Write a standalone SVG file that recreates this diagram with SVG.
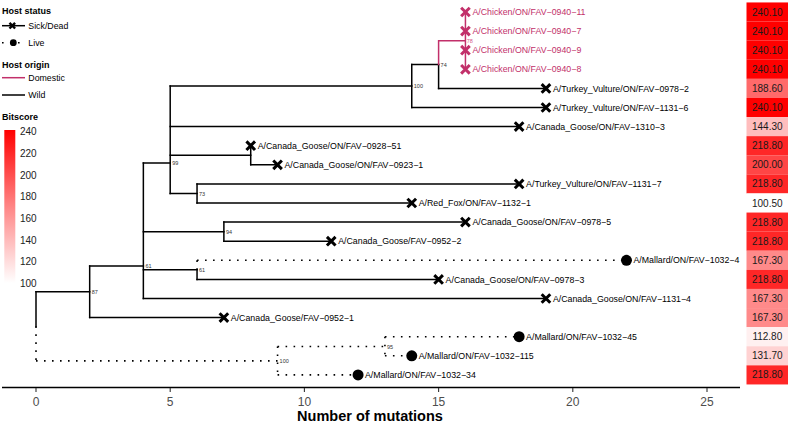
<svg xmlns="http://www.w3.org/2000/svg" xmlns:xlink="http://www.w3.org/1999/xlink" width="788" height="424" viewBox="0 0 788 424">
<style>
text{font-family:"Liberation Sans",Arial,sans-serif}
.e{stroke:#000;stroke-width:1.5;fill:none;stroke-linecap:square}
.d{stroke:#000;stroke-width:1.6;fill:none;stroke-dasharray:1.6 6.4;stroke-linecap:butt}
.p{stroke:#C2306A;stroke-width:1.5;fill:none;stroke-linecap:square}
.tl{font-size:8.8px;fill:#000}
.tlp{font-size:8.8px;fill:#C2306A}
.nl{font-size:5.5px;fill:#333}
.xk{stroke:#000;stroke-width:3;fill:none}
.xp{stroke:#C2306A;stroke-width:3;fill:none}
.hv{font-size:10px;fill:#1a1a1a;text-anchor:middle}
.lt{font-size:9px;font-weight:bold;fill:#000}
.ll{font-size:8.8px;fill:#000}
.cb{font-size:10px;fill:#222}
.ax{font-size:12px;fill:#4D4D4D;text-anchor:middle}
</style>
<defs>
<path id="xm" d="M-4.3,-4.3L4.3,4.3M-4.3,4.3L4.3,-4.3"/>
<linearGradient id="bitgrad" x1="0" y1="0" x2="0" y2="1">
<stop offset="0" stop-color="#FF0000"/>
<stop offset="0.5" stop-color="#FF8585"/>
<stop offset="1" stop-color="#FFFFFF"/>
</linearGradient>
</defs>
<rect width="788" height="424" fill="#fff"/>

<g id="legend">
<text class="lt" x="2" y="13.6">Host status</text>
<line x1="2" y1="25.7" x2="25" y2="25.7" stroke="#000" stroke-width="1.5"/>
<path d="M9.5,22.9L15.1,28.5M9.5,28.5L15.1,22.9" stroke="#000" stroke-width="2.4" fill="none"/>
<text class="ll" x="28.3" y="28.8">Sick/Dead</text>
<line x1="2" y1="42.7" x2="25" y2="42.7" class="d" stroke-dasharray="1.2 2.4"/>
<circle cx="13.3" cy="42.7" r="3.4" fill="#000"/>
<text class="ll" x="28.3" y="45.8">Live</text>
<text class="lt" x="2" y="68">Host origin</text>
<line x1="2" y1="77.7" x2="25" y2="77.7" stroke="#C2306A" stroke-width="1.5"/>
<text class="ll" x="28.3" y="80.8">Domestic</text>
<line x1="2" y1="95" x2="25" y2="95" stroke="#000" stroke-width="1.5"/>
<text class="ll" x="28.3" y="98.1">Wild</text>
<text class="lt" x="2" y="119.6">Bitscore</text>
<rect x="4.3" y="130" width="11" height="153" fill="url(#bitgrad)"/>
<text class="cb" x="20" y="135.2">240</text>
<text class="cb" x="20" y="156.9">220</text>
<text class="cb" x="20" y="178.6">200</text>
<text class="cb" x="20" y="200.3">180</text>
<text class="cb" x="20" y="222">160</text>
<text class="cb" x="20" y="243.6">140</text>
<text class="cb" x="20" y="265.3">120</text>
<text class="cb" x="20" y="287">100</text>
</g>

<g id="connectors">
<!-- solid horizontals -->
<path class="e" d="M36,291.8H89.68 M89.68,266H143.36 M89.68,317.6H223.88 M143.36,163H170.2 M143.36,231.65H223.88 M143.36,269.85H197.04 M143.36,298.5H545.96 M170.2,86H411.76 M170.2,126.6H519.12 M170.2,155.25H250.72 M170.2,193.45H197.04 M250.72,164.8H277.56 M197.04,183.9H519.12 M197.04,203H411.76 M223.88,222.1H465.44 M223.88,241.2H331.24 M197.04,279.4H438.6 M411.76,64.5H438.6 M411.76,107.5H545.96 M438.6,88.4H545.96"/>
<!-- solid verticals -->
<path class="e" d="M36,291.8V326.35 M89.68,266V317.6 M143.36,163V298.5 M170.2,86V193.45 M250.72,145.7V164.8 M197.04,183.9V203 M223.88,222.1V241.2 M197.04,269.85V279.4 M411.76,64.5V107.5 M438.6,64.5V88.4"/>
<!-- domestic -->
<path class="p" d="M438.6,40.65H465.44 M438.6,40.65V64.5 M465.44,12V69.3"/>
<!-- dotted (live) -->
<path class="d" d="M36,326.35V360.9 M36,360.9H277.56 M277.56,346.5V374.9 M277.56,346.5H384.92 M277.56,374.9H358.08 M384.92,336.7V355.8 M384.92,336.7H519.12 M384.92,355.8H411.76 M197.04,260.3V269.85 M197.04,260.3H626.48"/>
</g>

<g id="node-labels">
<text class="nl" x="91.7" y="293.8">87</text>
<text class="nl" x="145.4" y="268">61</text>
<text class="nl" x="172.2" y="165">99</text>
<text class="nl" x="199" y="195.5">73</text>
<text class="nl" x="225.9" y="233.7">94</text>
<text class="nl" x="199" y="271.9">61</text>
<text class="nl" x="413.8" y="88">100</text>
<text class="nl" x="440.6" y="66.5">74</text>
<text class="nl" x="466.8" y="42.7" fill="#D45A8A" style="fill:#D45A8A">78</text>
<text class="nl" x="279.6" y="362.9">100</text>
<text class="nl" x="386.9" y="348.5">95</text>
</g>

<g id="tip-chicken-0940-11"><use xlink:href="#xm" x="465.44" y="12" class="xp"/><text class="tlp" x="472.4" y="15.1">A/Chicken/ON/FAV−0940−11</text></g>
<g id="tip-chicken-0940-7"><use xlink:href="#xm" x="465.44" y="31.1" class="xp"/><text class="tlp" x="472.4" y="34.2">A/Chicken/ON/FAV−0940−7</text></g>
<g id="tip-chicken-0940-9"><use xlink:href="#xm" x="465.44" y="50.2" class="xp"/><text class="tlp" x="472.4" y="53.3">A/Chicken/ON/FAV−0940−9</text></g>
<g id="tip-chicken-0940-8"><use xlink:href="#xm" x="465.44" y="69.3" class="xp"/><text class="tlp" x="472.4" y="72.4">A/Chicken/ON/FAV−0940−8</text></g>
<g id="tip-tv-0978-2"><use xlink:href="#xm" x="545.96" y="88.4" class="xk"/><text class="tl" x="552.9" y="91.5">A/Turkey_Vulture/ON/FAV−0978−2</text></g>
<g id="tip-tv-1131-6"><use xlink:href="#xm" x="545.96" y="107.5" class="xk"/><text class="tl" x="552.9" y="110.6">A/Turkey_Vulture/ON/FAV−1131−6</text></g>
<g id="tip-cg-1310-3"><use xlink:href="#xm" x="519.12" y="126.6" class="xk"/><text class="tl" x="526.1" y="129.7">A/Canada_Goose/ON/FAV−1310−3</text></g>
<g id="tip-cg-0928-51"><use xlink:href="#xm" x="250.72" y="145.7" class="xk"/><text class="tl" x="257.7" y="148.8">A/Canada_Goose/ON/FAV−0928−51</text></g>
<g id="tip-cg-0923-1"><use xlink:href="#xm" x="277.56" y="164.8" class="xk"/><text class="tl" x="284.5" y="167.9">A/Canada_Goose/ON/FAV−0923−1</text></g>
<g id="tip-tv-1131-7"><use xlink:href="#xm" x="519.12" y="183.9" class="xk"/><text class="tl" x="526.1" y="187">A/Turkey_Vulture/ON/FAV−1131−7</text></g>
<g id="tip-rf-1132-1"><use xlink:href="#xm" x="411.76" y="203" class="xk"/><text class="tl" x="418.7" y="206.1">A/Red_Fox/ON/FAV−1132−1</text></g>
<g id="tip-cg-0978-5"><use xlink:href="#xm" x="465.44" y="222.1" class="xk"/><text class="tl" x="472.4" y="225.2">A/Canada_Goose/ON/FAV−0978−5</text></g>
<g id="tip-cg-0952-2"><use xlink:href="#xm" x="331.24" y="241.2" class="xk"/><text class="tl" x="338.2" y="244.3">A/Canada_Goose/FAV−0952−2</text></g>
<g id="tip-m-1032-4"><circle cx="626.48" cy="260.3" r="5.5" fill="#000"/><text class="tl" x="633.4" y="263.4">A/Mallard/ON/FAV−1032−4</text></g>
<g id="tip-cg-0978-3"><use xlink:href="#xm" x="438.6" y="279.4" class="xk"/><text class="tl" x="445.6" y="282.5">A/Canada_Goose/ON/FAV−0978−3</text></g>
<g id="tip-cg-1131-4"><use xlink:href="#xm" x="545.96" y="298.5" class="xk"/><text class="tl" x="552.9" y="301.6">A/Canada_Goose/ON/FAV−1131−4</text></g>
<g id="tip-cg-0952-1"><use xlink:href="#xm" x="223.88" y="317.6" class="xk"/><text class="tl" x="230.8" y="320.7">A/Canada_Goose/FAV−0952−1</text></g>
<g id="tip-m-1032-45"><circle cx="519.12" cy="336.7" r="5.5" fill="#000"/><text class="tl" x="526.1" y="339.8">A/Mallard/ON/FAV−1032−45</text></g>
<g id="tip-m-1032-115"><circle cx="411.76" cy="355.8" r="5.5" fill="#000"/><text class="tl" x="418.7" y="358.9">A/Mallard/ON/FAV−1032−115</text></g>
<g id="tip-m-1032-34"><circle cx="358.08" cy="374.9" r="5.5" fill="#000"/><text class="tl" x="365" y="378">A/Mallard/ON/FAV−1032−34</text></g>

<g id="heatmap">
<rect x="746.5" y="2.45" width="41.5" height="19.1" fill="#FF0000"/><text class="hv" x="767.3" y="15.5">240.10</text>
<rect x="746.5" y="21.55" width="41.5" height="19.1" fill="#FF0000"/><text class="hv" x="767.3" y="34.6">240.10</text>
<rect x="746.5" y="40.65" width="41.5" height="19.1" fill="#FF0000"/><text class="hv" x="767.3" y="53.7">240.10</text>
<rect x="746.5" y="59.75" width="41.5" height="19.1" fill="#FF0000"/><text class="hv" x="767.3" y="72.8">240.10</text>
<rect x="746.5" y="78.85" width="41.5" height="19.1" fill="#FF6A6A"/><text class="hv" x="767.3" y="91.9">188.60</text>
<rect x="746.5" y="97.95" width="41.5" height="19.1" fill="#FF0000"/><text class="hv" x="767.3" y="111">240.10</text>
<rect x="746.5" y="117.05" width="41.5" height="19.1" fill="#FFBDBD"/><text class="hv" x="767.3" y="130.1">144.30</text>
<rect x="746.5" y="136.15" width="41.5" height="19.1" fill="#FF2727"/><text class="hv" x="767.3" y="149.2">218.80</text>
<rect x="746.5" y="155.25" width="41.5" height="19.1" fill="#FF4646"/><text class="hv" x="767.3" y="168.3">200.00</text>
<rect x="746.5" y="174.35" width="41.5" height="19.1" fill="#FF2727"/><text class="hv" x="767.3" y="187.4">218.80</text>
<rect x="746.5" y="193.45" width="41.5" height="19.1" fill="#FFFFFF"/><text class="hv" x="767.3" y="206.5">100.50</text>
<rect x="746.5" y="212.55" width="41.5" height="19.1" fill="#FF2727"/><text class="hv" x="767.3" y="225.6">218.80</text>
<rect x="746.5" y="231.65" width="41.5" height="19.1" fill="#FF2727"/><text class="hv" x="767.3" y="244.7">218.80</text>
<rect x="746.5" y="250.75" width="41.5" height="19.1" fill="#FF8A8A"/><text class="hv" x="767.3" y="263.8">167.30</text>
<rect x="746.5" y="269.85" width="41.5" height="19.1" fill="#FF2727"/><text class="hv" x="767.3" y="282.9">218.80</text>
<rect x="746.5" y="288.95" width="41.5" height="19.1" fill="#FF8A8A"/><text class="hv" x="767.3" y="302">167.30</text>
<rect x="746.5" y="308.05" width="41.5" height="19.1" fill="#FF8A8A"/><text class="hv" x="767.3" y="321.1">167.30</text>
<rect x="746.5" y="327.15" width="41.5" height="19.1" fill="#FFF0F0"/><text class="hv" x="767.3" y="340.2">112.80</text>
<rect x="746.5" y="346.25" width="41.5" height="19.1" fill="#FFD2D2"/><text class="hv" x="767.3" y="359.3">131.70</text>
<rect x="746.5" y="365.35" width="41.5" height="19.1" fill="#FF2727"/><text class="hv" x="767.3" y="378.4">218.80</text>
</g>

<g id="axis">
<line x1="2" y1="387.5" x2="740" y2="387.5" stroke="#000" stroke-width="1.6"/>
<path d="M36,388V392 M170.2,388V392 M304.4,388V392 M438.6,388V392 M572.8,388V392 M707,388V392" stroke="#333" stroke-width="1.1"/>
<text class="ax" x="36" y="406">0</text>
<text class="ax" x="170.2" y="406">5</text>
<text class="ax" x="304.4" y="406">10</text>
<text class="ax" x="438.6" y="406">15</text>
<text class="ax" x="572.8" y="406">20</text>
<text class="ax" x="707" y="406">25</text>
<text x="370" y="421" font-size="14.5" font-weight="bold" text-anchor="middle" fill="#000">Number of mutations</text>
</g>
</svg>
